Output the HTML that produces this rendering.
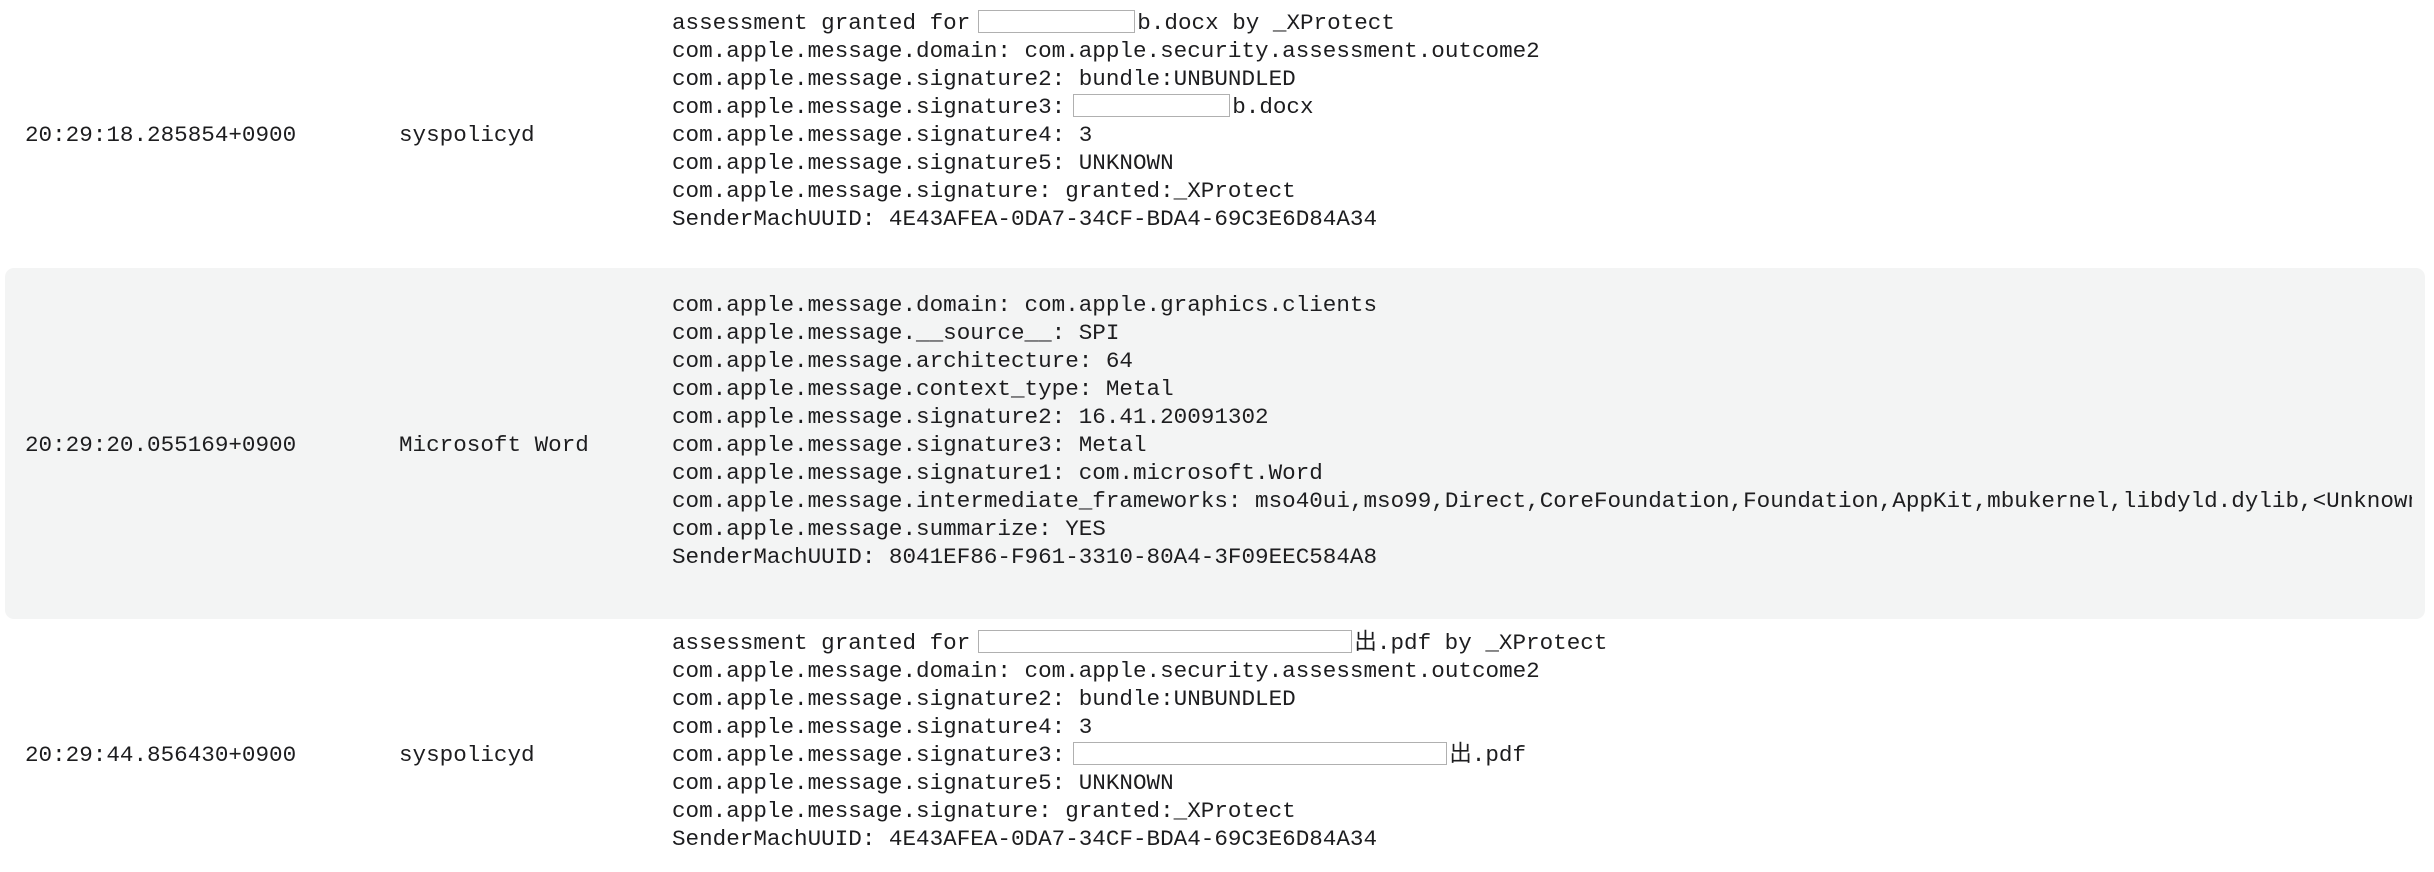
<!DOCTYPE html>
<html><head><meta charset="utf-8"><style>
html,body{margin:0;padding:0;background:#fff;}
body{width:2434px;height:872px;position:relative;overflow:hidden;font-family:"Liberation Mono","Noto Sans CJK JP",monospace;font-size:22.6px;color:#1d1d1f;}
.l{position:absolute;height:28px;line-height:28px;white-space:pre;}
.bg{position:absolute;left:5px;top:268px;width:2420px;height:351px;background:#f3f4f4;border-radius:9px;}
.r{display:inline-block;height:23px;border:1.5px solid #b0b0b0;background:#fff;box-sizing:border-box;vertical-align:-4px;margin:0 2px 0 8px;}
.clip{position:absolute;left:0;top:0;width:2412px;height:872px;overflow:hidden;}
</style></head><body>
<div class="bg"></div>
<div class="clip">
<div class="l" style="left:25px;top:121px">20:29:18.285854+0900</div>
<div class="l" style="left:399px;top:121px">syspolicyd</div>
<div class="l" style="left:672px;top:9px">assessment granted for<span class="r" style="width:157px"></span>b.docx by _XProtect</div>
<div class="l" style="left:672px;top:37px">com.apple.message.domain: com.apple.security.assessment.outcome2</div>
<div class="l" style="left:672px;top:65px">com.apple.message.signature2: bundle:UNBUNDLED</div>
<div class="l" style="left:672px;top:93px">com.apple.message.signature3:<span class="r" style="width:157px"></span>b.docx</div>
<div class="l" style="left:672px;top:121px">com.apple.message.signature4: 3</div>
<div class="l" style="left:672px;top:149px">com.apple.message.signature5: UNKNOWN</div>
<div class="l" style="left:672px;top:177px">com.apple.message.signature: granted:_XProtect</div>
<div class="l" style="left:672px;top:205px">SenderMachUUID: 4E43AFEA-0DA7-34CF-BDA4-69C3E6D84A34</div>

<div class="l" style="left:25px;top:431px">20:29:20.055169+0900</div>
<div class="l" style="left:399px;top:431px">Microsoft Word</div>
<div class="l" style="left:672px;top:291px">com.apple.message.domain: com.apple.graphics.clients</div>
<div class="l" style="left:672px;top:319px">com.apple.message.__source__: SPI</div>
<div class="l" style="left:672px;top:347px">com.apple.message.architecture: 64</div>
<div class="l" style="left:672px;top:375px">com.apple.message.context_type: Metal</div>
<div class="l" style="left:672px;top:403px">com.apple.message.signature2: 16.41.20091302</div>
<div class="l" style="left:672px;top:431px">com.apple.message.signature3: Metal</div>
<div class="l" style="left:672px;top:459px">com.apple.message.signature1: com.microsoft.Word</div>
<div class="l" style="left:672px;top:487px">com.apple.message.intermediate_frameworks: mso40ui,mso99,Direct,CoreFoundation,Foundation,AppKit,mbukernel,libdyld.dylib,&lt;Unknown&gt;</div>
<div class="l" style="left:672px;top:515px">com.apple.message.summarize: YES</div>
<div class="l" style="left:672px;top:543px">SenderMachUUID: 8041EF86-F961-3310-80A4-3F09EEC584A8</div>

<div class="l" style="left:25px;top:741px">20:29:44.856430+0900</div>
<div class="l" style="left:399px;top:741px">syspolicyd</div>
<div class="l" style="left:672px;top:629px">assessment granted for<span class="r" style="width:374px"></span>出.pdf by _XProtect</div>
<div class="l" style="left:672px;top:657px">com.apple.message.domain: com.apple.security.assessment.outcome2</div>
<div class="l" style="left:672px;top:685px">com.apple.message.signature2: bundle:UNBUNDLED</div>
<div class="l" style="left:672px;top:713px">com.apple.message.signature4: 3</div>
<div class="l" style="left:672px;top:741px">com.apple.message.signature3:<span class="r" style="width:374px"></span>出.pdf</div>
<div class="l" style="left:672px;top:769px">com.apple.message.signature5: UNKNOWN</div>
<div class="l" style="left:672px;top:797px">com.apple.message.signature: granted:_XProtect</div>
<div class="l" style="left:672px;top:825px">SenderMachUUID: 4E43AFEA-0DA7-34CF-BDA4-69C3E6D84A34</div>
</div>
</body></html>
